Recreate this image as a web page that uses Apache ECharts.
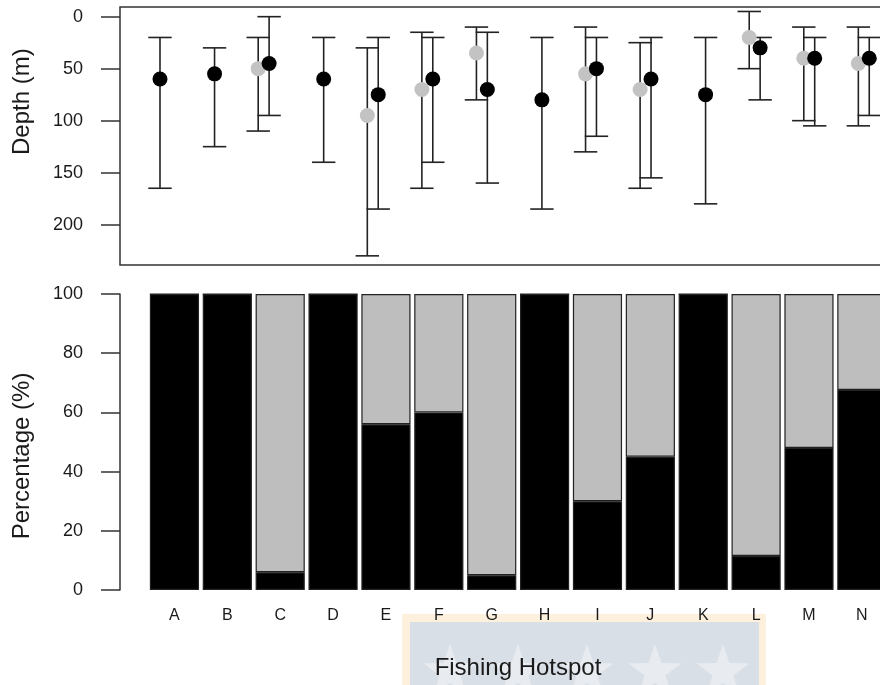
<!DOCTYPE html>
<html>
<head>
<meta charset="utf-8">
<script src="https://cdn.jsdelivr.net/npm/echarts@6/dist/echarts.min.js"></script>
<style>
html,body{margin:0;padding:0;background:#fff;overflow:hidden;width:880px;height:685px;}
#chart{width:960px;height:685px;}
</style>
</head>
<body>
<div id="chart"></div>
<script>
// ---------- data ----------
const categories = ['A','B','C','D','E','F','G','H','I','J','K','L','M','N'];

// depth (m): grey group (null = no data)
const greyDepthMean = [null, null, 50, null, 95, 70, 35, null, 55, 70, null, 20, 40, 45];
const greyDepthMin  = [null, null, 20, null, 30, 15, 10, null, 10, 25, null, -5, 10, 10];
const greyDepthMax  = [null, null, 110, null, 230, 165, 80, null, 130, 165, null, 50, 100, 105];

// depth (m): black group
const blackDepthMean = [60, 55, 45, 60, 75, 60, 70, 80, 50, 60, 75, 30, 40, 40];
const blackDepthMin  = [20, 30, 0, 20, 20, 20, 15, 20, 20, 20, 20, 20, 20, 20];
const blackDepthMax  = [165, 125, 95, 140, 185, 140, 160, 185, 115, 155, 180, 80, 105, 95];

// percentage (%)
const blackPercent = [100, 100, 6, 100, 56, 60, 5, 100, 30, 45, 100, 11.5, 48, 67.6];
const greyPercent  = [0, 0, 94, 0, 44, 40, 95, 0, 70, 55, 0, 88.5, 52, 32.4];

const depthTicks = [0, 50, 100, 150, 200];

// ---------- build ----------
const FONT = 'Liberation Sans, Arial, sans-serif';
const TXT = '#1a1a1a';
const LINE = '#222';

function pointData(mean, min, max, shift) {
  const pts = [], bars = [];
  mean.forEach((m, i) => {
    if (m === null) return;
    const x = i + 1 + shift;
    pts.push([x, m]);
    bars.push([x, min[i], max[i]]);
  });
  return { pts, bars };
}
const grey = pointData(greyDepthMean, greyDepthMin, greyDepthMax, -0.1);
const black = pointData(blackDepthMean, blackDepthMin, blackDepthMax, 0.1);

function errRender(params, api) {
  const x = api.value(0);
  const a = api.coord([x, api.value(1)]);
  const b = api.coord([x, api.value(2)]);
  const hw = 11.7;
  const st = { stroke: LINE, lineWidth: 1.6 };
  return {
    type: 'group',
    children: [
      { type: 'line', shape: { x1: a[0], y1: a[1], x2: b[0], y2: b[1] }, style: st },
      { type: 'line', shape: { x1: a[0] - hw, y1: a[1], x2: a[0] + hw, y2: a[1] }, style: st },
      { type: 'line', shape: { x1: b[0] - hw, y1: b[1], x2: b[0] + hw, y2: b[1] }, style: st }
    ]
  };
}

function starPoints(cx, cy, R, r) {
  const p = [];
  for (let k = 0; k < 10; k++) {
    const ang = -Math.PI / 2 + k * Math.PI / 5;
    const rad = k % 2 === 0 ? R : r;
    p.push([cx + rad * Math.cos(ang), cy + rad * Math.sin(ang)]);
  }
  return p;
}

const starCenters = [450, 518, 587, 655, 723];
const watermark = [
  { type: 'rect', z: -20, shape: { x: 402, y: 614, width: 364, height: 80 }, style: { fill: '#fdf1dd' } },
  { type: 'rect', z: -19, shape: { x: 410, y: 622, width: 349, height: 70 }, style: { fill: '#d9dfe7' } }
].concat(starCenters.map(cx => ({
  type: 'polygon', z: -18, shape: { points: starPoints(cx, 672, 28, 11) }, style: { fill: '#e8ebef' }
})));

const chart = echarts.init(document.getElementById('chart'));
chart.setOption({
  animation: false,
  backgroundColor: '#fff',
  grid: [
    { left: 120, top: 7, width: 800, height: 258, show: true, borderColor: '#333', borderWidth: 1.5, backgroundColor: 'transparent' },
    { left: 148, top: 294, width: 740.3, height: 296 }
  ],
  xAxis: [
    { gridIndex: 0, type: 'value', min: 0.367, max: 15.03, show: false },
    {
      gridIndex: 1, type: 'category', data: categories,
      axisLine: { show: false }, axisTick: { show: false },
      axisLabel: { margin: 18, fontSize: 16, color: TXT, fontFamily: FONT, interval: 0 }
    }
  ],
  yAxis: [
    {
      gridIndex: 0, type: 'value', inverse: true, min: -9.3, max: 238.8,
      axisLine: { show: false },
      splitLine: { show: false },
      axisTick: { show: true, length: 19, customValues: depthTicks, lineStyle: { color: '#333', width: 1.5 } },
      axisLabel: { margin: 37, fontSize: 18, color: TXT, fontFamily: FONT, customValues: depthTicks }
    },
    {
      gridIndex: 1, type: 'value', min: 0, max: 100, interval: 20, offset: 28,
      axisLine: { show: true, lineStyle: { color: '#333', width: 1.5 } },
      splitLine: { show: false },
      axisTick: { show: true, length: 19, lineStyle: { color: '#333', width: 1.5 } },
      axisLabel: { margin: 37, fontSize: 18, color: TXT, fontFamily: FONT }
    }
  ],
  series: [
    { type: 'custom', xAxisIndex: 0, yAxisIndex: 0, renderItem: errRender, data: grey.bars, z: 2, encode: { x: 0, y: [1, 2] } },
    { type: 'custom', xAxisIndex: 0, yAxisIndex: 0, renderItem: errRender, data: black.bars, z: 2, encode: { x: 0, y: [1, 2] } },
    { type: 'scatter', xAxisIndex: 0, yAxisIndex: 0, data: grey.pts, symbolSize: 15, itemStyle: { color: '#c3c3c3', opacity: 1 }, z: 3 },
    { type: 'scatter', xAxisIndex: 0, yAxisIndex: 0, data: black.pts, symbolSize: 15, itemStyle: { color: '#000', opacity: 1 }, z: 4 },
    {
      type: 'bar', xAxisIndex: 1, yAxisIndex: 1, stack: 'p', data: blackPercent, barCategoryGap: '7%',
      itemStyle: { color: '#000', borderColor: '#222', borderWidth: 1.2 }
    },
    {
      type: 'bar', xAxisIndex: 1, yAxisIndex: 1, stack: 'p', data: greyPercent, barCategoryGap: '7%',
      itemStyle: { color: '#bebebe', borderColor: '#222', borderWidth: 1.2 }
    }
  ],
  graphic: watermark.concat([
    { type: 'text', z: 10, x: 22.5, y: 101.7, rotation: Math.PI / 2,
      style: { text: 'Depth (m)', fontSize: 24, fontFamily: FONT, fill: TXT, align: 'center', verticalAlign: 'middle' } },
    { type: 'text', z: 10, x: 22.5, y: 456, rotation: Math.PI / 2,
      style: { text: 'Percentage (%)', fontSize: 24, fontFamily: FONT, fill: TXT, align: 'center', verticalAlign: 'middle' } },
    { type: 'text', z: 10, x: 518, y: 668,
      style: { text: 'Fishing Hotspot', fontSize: 24, fontFamily: FONT, fill: TXT, align: 'center', verticalAlign: 'middle' } }
  ])
});
</script>
</body>
</html>
